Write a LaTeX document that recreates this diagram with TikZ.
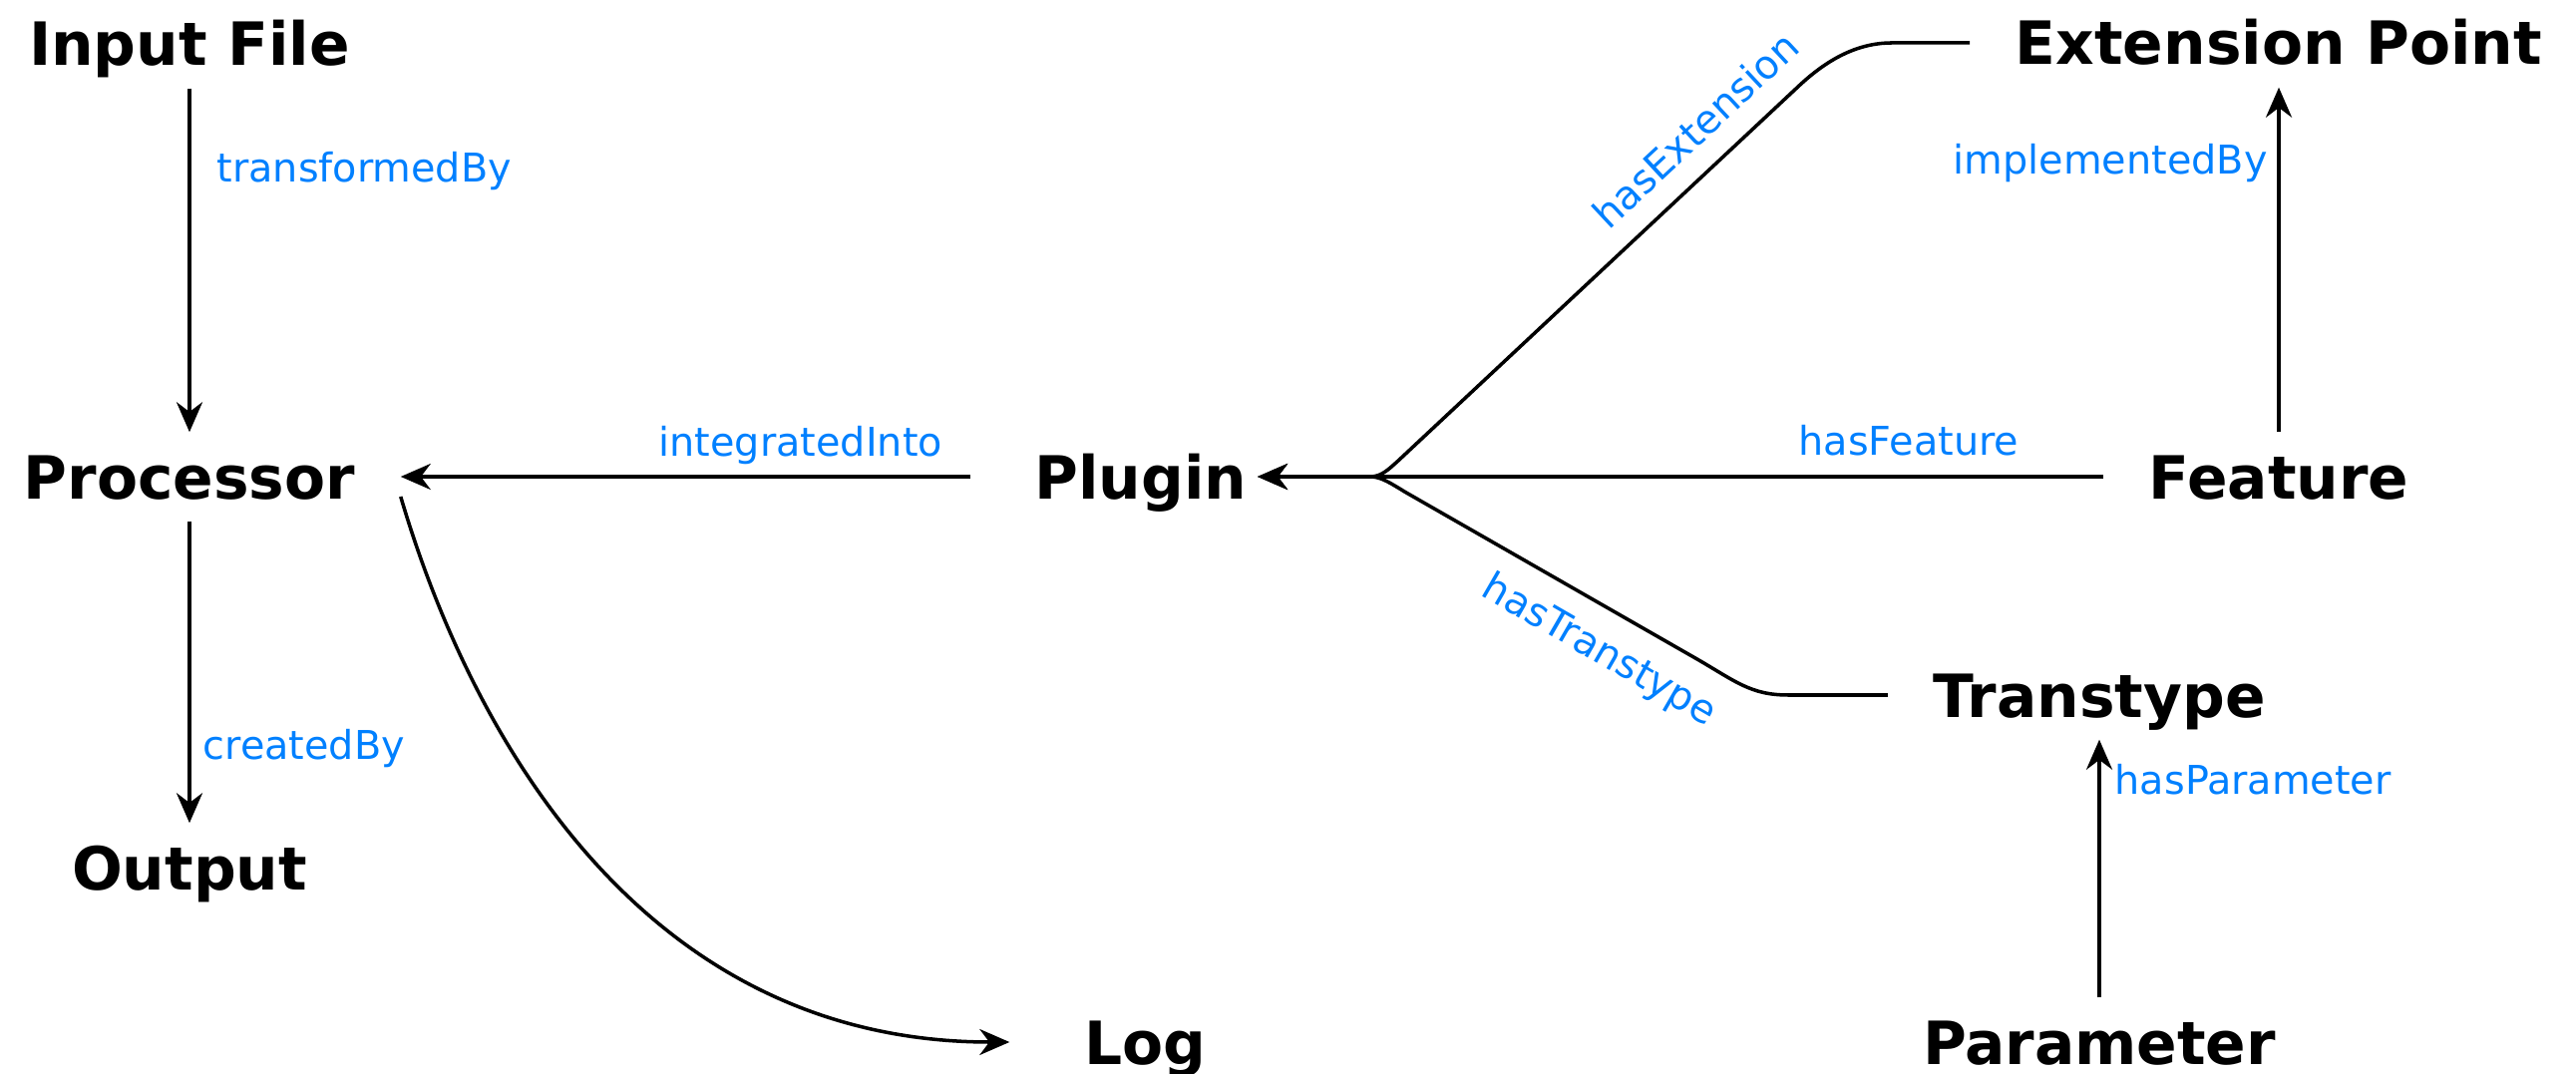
\documentclass[tikz,border=0pt]{standalone}
\usepackage{fontspec}
\setmainfont{DejaVu Sans}
\usetikzlibrary{arrows.meta}
\definecolor{relblue}{RGB}{0,128,255}

\begin{document}
\begin{tikzpicture}[x=0.01cm,y=-0.01cm]
  \tikzset{
    concept/.style={font=\fontsize{17}{20}\selectfont\bfseries,
      inner xsep=4.5mm, inner ysep=2.2mm, text height=4.4mm, text depth=0pt}, % Class names
    relation/.style={font=\fontsize{11.3}{13}\selectfont, text=relblue,
      inner sep=0pt, anchor=base west}, % Property labels
    arr/.style={line width=1pt, -{Stealth[length=3mm,width=2.6mm]}}
  }
  \useasboundingbox (0,0) rectangle (2583,1077);

  \node[concept] (input) at (190,44) {Input File};
  \node[concept] (proc) at (190,478) {Processor};
  \node[concept] (output) at (190,870) {Output};
  \node[concept,inner xsep=1mm] (plugin) at (1144,478) {Plugin};
  \node[concept,inner xsep=7.4mm] (log) at (1148,1045) {Log};
  \node[concept] (extpt) at (2285,43) {Extension Point};
  \node[concept] (feature) at (2285,478) {Feature};
  \node[concept] (transtype) at (2105,697) {Transtype};
  \node[concept] (param) at (2105,1045) {Parameter};

  \node[relation] (transformed) at (217,183) {transformedBy};
  \node[relation] (created) at (203,762) {createdBy};
  \node[relation] (integrated) at (660,458) {integratedInto};
  \node[relation] (hasfeat) at (1803,457) {hasFeature};
  \node[relation] (implemented) at (1958,175) {implementedBy};
  \node[relation] (hasparam) at (2120,797) {hasParameter};
  \node[relation,anchor=center,rotate=43] (hasext) at (1700,130) {hasExtension};
  \node[relation,anchor=center,rotate=-30] (hastrans) at (1603,653) {hasTranstype};

  \draw[arr] (input) -- (proc);
  \draw[arr] (proc) -- (output);
  \draw[arr,shorten <=5.4mm] (plugin) -- (proc);
  \draw[arr] (feature) -- (plugin);
  \draw[arr] (feature) -- (extpt);
  \draw[arr] (param) -- (transtype);
  \draw[arr] (extpt.west) -- (1897,43) .. controls (1860,43) and (1830,62) .. (1805,85)
    -- (1402,462) .. controls (1392,471) and (1385,478) .. (1374,478) -- (plugin.east);
  \draw[arr] (transtype.west) -- (1793,697) .. controls (1755,697) and (1740,683) .. (1700,660)
    -- (1410,494) .. controls (1395,485) and (1385,478) .. (1374,478) -- (plugin.east);
  \draw[arr] ([yshift=-2mm]proc.east) .. controls (470,730) and (640,1045) .. (log.west); % Log curve
\end{tikzpicture}
\end{document}
